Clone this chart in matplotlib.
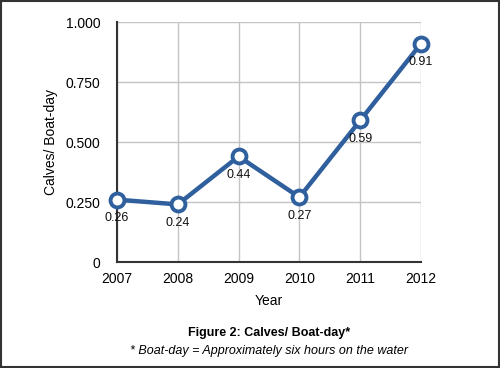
import matplotlib
matplotlib.use("Agg")
import matplotlib.pyplot as plt
from matplotlib.patches import Rectangle

years = [2007, 2008, 2009, 2010, 2011, 2012]
calves_per_day = [0.26, 0.24, 0.44, 0.27, 0.59, 0.91]
yticks = [0, 0.25, 0.5, 0.75, 1.0]
ytick_labels = ["0", "0.250", "0.500", "0.750", "1.000"]
BLUE = "#2f5f9d"

plt.rcParams["font.family"] = ["Liberation Sans", "DejaVu Sans"]

fig = plt.figure(figsize=(5.0, 3.68), dpi=100)
ax = fig.add_axes([0.234, 0.288, 0.608, 0.652])

ax.plot(years, calves_per_day, color=BLUE, lw=3.2, marker="o", ms=10,
        mfc="white", mec=BLUE, mew=2.8, clip_on=False, zorder=5)
for x, y in zip(years, calves_per_day):
    ax.annotate(f"{y:.2f}", (x, y), xytext=(0, -13.5), textcoords="offset points",
                ha="center", va="center", fontsize=9, color="#111111", zorder=6)

ax.set_xlim(2007, 2012)
ax.set_ylim(0, 1.0)
ax.set_xticks(years)
ax.set_xticklabels([str(y) for y in years])
ax.set_yticks(yticks)
ax.set_yticklabels(ytick_labels)
ax.tick_params(axis="both", length=0, labelsize=10)
ax.tick_params(axis="y", pad=12)
ax.tick_params(axis="x", pad=7)
ax.grid(True, color="#c4c4c4", lw=1)
for s in ["top", "right"]:
    ax.spines[s].set_visible(False)
for s in ["left", "bottom"]:
    ax.spines[s].set_color("#333333")
    ax.spines[s].set_linewidth(1.5)

ax.set_xlabel("Year", fontsize=10)
ax.set_ylabel("Calves/ Boat-day", fontsize=10)
ax.yaxis.set_label_coords(-0.194, 0.5)
ax.xaxis.set_label_coords(0.5, -0.135)

fig.text(0.538, 1 - 333 / 368, "Figure 2: Calves/ Boat-day*", ha="center", va="center",
         fontsize=9, fontweight="bold")
fig.text(0.538, 1 - 351 / 368, "* Boat-day = Approximately six hours on the water",
         ha="center", va="center", fontsize=9, style="italic")

fig.patches.append(Rectangle((0.002, 0.003), 0.996, 0.994, transform=fig.transFigure,
                             fill=False, edgecolor="#333333", lw=1.5))

fig.savefig("out.png", dpi=100)
